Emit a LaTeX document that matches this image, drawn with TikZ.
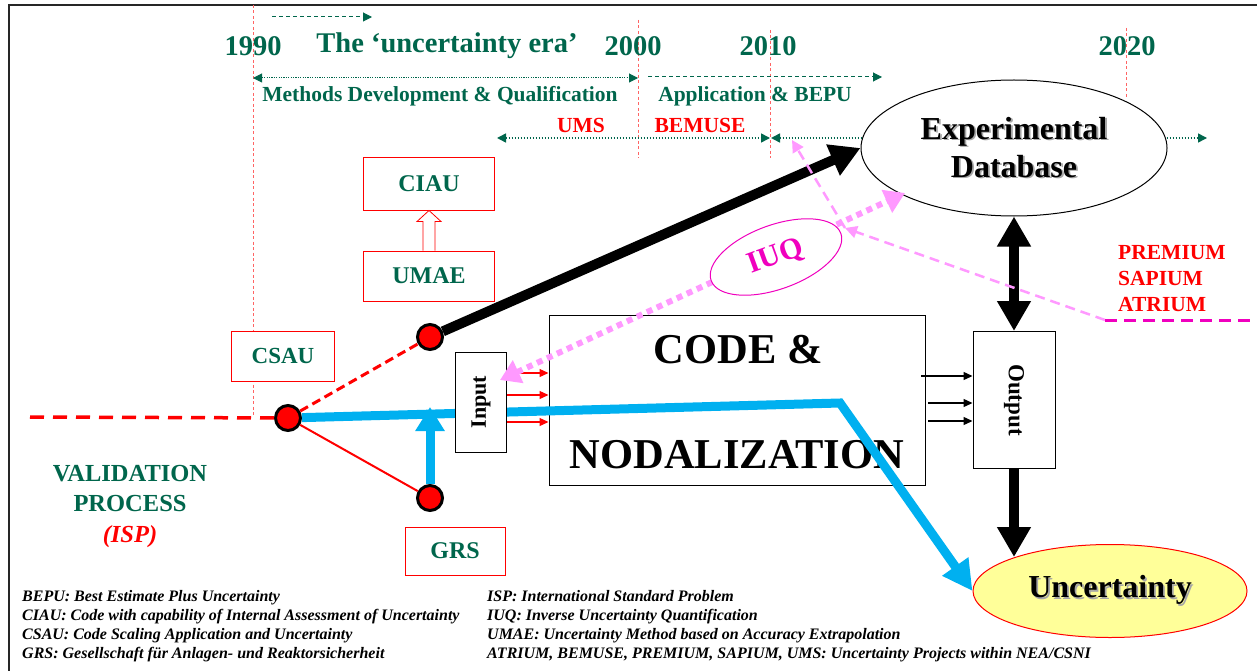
\documentclass[tikz,border=0pt]{standalone}
\usepackage{fontspec}
\setmainfont{Liberation Serif}
\usetikzlibrary{arrows.meta,shapes.geometric,calc}
\definecolor{dgreen}{RGB}{0,102,76}
\definecolor{lred}{RGB}{255,100,100}
\definecolor{pinkv}{RGB}{255,153,255}
\definecolor{magc}{RGB}{240,0,190}
\definecolor{cyanb}{RGB}{0,176,240}
\definecolor{yel}{RGB}{255,255,153}
\newcommand{\shd}[2][black!35]{\makebox[0pt][l]{\hspace{1.8pt}\raisebox{-1.8pt}{\textcolor{#1}{#2}}}#2}
\begin{document}
\begin{tikzpicture}[x=1pt,y=-1pt,
  yr/.style={font=\fontsize{28.5}{30}\selectfont\bfseries, text=dgreen, inner sep=0pt},
  glab/.style={font=\fontsize{21.5}{24}\selectfont\bfseries, text=dgreen, inner sep=0pt},
  rlab/.style={font=\fontsize{21.5}{24}\selectfont\bfseries, text=red, inner sep=0pt},
  vline/.style={draw=lred, line width=1pt, dash pattern=on 3pt off 2.5pt},
  tarr/.style={draw=dgreen, line width=1pt},
  gtip/.style={-{Triangle[length=9pt,width=9pt]}},
  gtips/.style={{Triangle[length=9pt,width=9pt]}-{Triangle[length=9pt,width=9pt]}},
  rbox/.style={draw=red, line width=1pt, fill=white, text=dgreen, font=\fontsize{24}{26}\selectfont\bfseries, inner sep=0pt},
  kbox/.style={draw=black, line width=1pt, fill=white, inner sep=0pt},
  rdot/.style={circle, fill=red, draw=black, line width=3pt, minimum size=25pt, inner sep=0pt},
  bigarr/.style={line width=10pt, -{Triangle[length=30pt,width=32pt]}},
  smallarr/.style={line width=1.3pt, -{Triangle[length=9pt,width=8pt]}},
  pdash/.style={pinkv, line width=2.5pt, dash pattern=on 10pt off 6pt, -{Triangle[length=12pt,width=12pt]}},
  fnote/.style={anchor=west, align=left, inner sep=0pt, font=\fontsize{16}{19}\selectfont\bfseries\itshape}
]
\useasboundingbox (0,0) rectangle (1257,671);
\fill[white] (0,0) rectangle (1257,671);
% frame
\draw[line width=2pt, black!85] (9,671) -- (9,5) -- (1257,5);

% vertical year lines
\draw[vline] (253,5) -- (253,415);
\draw[vline] (638,20) -- (638,158);
\draw[vline] (770,30) -- (770,158);
\draw[vline] (1126,28) -- (1126,98);

% years
\node[yr] (y1990) at (253,46) {1990};
\node[yr] (era) at (447,46) {The ‘uncertainty era’};
\node[yr] (y2000) at (633,46) {2000};
\node[yr] (y2010) at (768,46) {2010};
\node[yr] (y2020) at (1127,46) {2020};

% timeline arrows
\coordinate (ea1) at (272,17); \coordinate (ea2) at (372,17);
\draw[tarr, dash pattern=on 4pt off 3pt, gtip] (ea1) -- (ea2);
\coordinate (md1) at (253,78); \coordinate (md2) at (638,78);
\draw[tarr, dash pattern=on 1.2pt off 1.2pt, gtips] (md1) -- (md2);
\node[glab] (mdt) at (440,96) {Methods Development \& Qualification};
\coordinate (ab1) at (648,77); \coordinate (ab2) at (882,77);
\draw[tarr, dash pattern=on 4pt off 3pt, gtip] (ab1) -- (ab2);
\node[glab] (abt) at (755,96) {Application \& BEPU};
\node[rlab] (ums) at (581,125) {UMS};
\node[rlab] (bem) at (700,125) {BEMUSE};
\coordinate (u1) at (497,138); \coordinate (u2) at (770,138);
\coordinate (u3) at (771,138); \coordinate (u4) at (1207,138);
\draw[tarr, line width=1.5pt, dash pattern=on 1.5pt off 1.5pt, gtips] (u1) -- (u2);
\draw[tarr, line width=1.5pt, dash pattern=on 1.5pt off 1.5pt, gtips] (u3) -- (u4);

% experimental database
\node[ellipse, draw, line width=1pt, fill=white, minimum width=306pt, minimum height=136pt, inner sep=0pt, align=center, font=\fontsize{32}{38}\selectfont\bfseries] (expdb) at (1014,148) {\shd{Experimental}\\\shd{Database}};

% red boxes
\node[rbox, minimum width=131pt, minimum height=52pt] (ciau) at (429,184) {CIAU};
\node[rbox, minimum width=131pt, minimum height=50pt] (umae) at (429,276) {UMAE};
\node[rbox, minimum width=103pt, minimum height=50pt, font=\fontsize{23}{25}\selectfont\bfseries] (csau) at (283,356) {CSAU};
\node[rbox, minimum width=100pt, minimum height=48pt] (grs) at (455,551) {GRS};
\draw[red, line width=0.8pt, fill=white] ($(umae.north)+(-6,0)$) -- ($(ciau.south)+(-6,11)$) -- ($(ciau.south)+(-12,11)$) -- (ciau.south) -- ($(ciau.south)+(12,11)$) -- ($(ciau.south)+(6,11)$) -- ($(umae.north)+(6,0)$);

% circles
\node[rdot] (c1) at (430,337) {};
\node[rdot] (c2) at (288,418) {};
\node[rdot] (c3) at (430,498) {};

% red lines
\coordinate (vs) at (30,417);
\draw[red, line width=3.5pt, dash pattern=on 14pt off 9pt] (vs) -- (c2);
\draw[red, line width=3pt, dash pattern=on 9pt off 5pt] (c2) -- (c1);
\draw[red, line width=2pt] (c2) -- (c3);

% black arrow to database
\draw[bigarr] (c1) -- (expdb.west);

% code box
\node[kbox, minimum width=376pt, minimum height=170pt] (code) at (737,400) {};
\node[font=\fontsize{42.5}{46}\selectfont\bfseries, inner sep=0pt] (ct1) at (738,350) {CODE \&};
\node[font=\fontsize{42.5}{46}\selectfont\bfseries, inner sep=0pt] (ct2) at (737,455) {NODALIZATION};

% output box
\node[kbox, minimum width=82pt, minimum height=137pt] (out) at (1014,400) {};
\node[rotate=-90, font=\fontsize{23}{25}\selectfont\bfseries, inner sep=0pt] (outt) at (1014,400) {Output};

% uncertainty
\node[ellipse, draw=red, line width=1pt, fill=yel, minimum width=274pt, minimum height=93pt, inner sep=0pt, font=\fontsize{32}{34}\selectfont\bfseries] (unc) at (1110,591) {\shd{Uncertainty}};

% blue
\coordinate (bb) at (840,403);
\draw[cyanb, line width=9pt, -{Triangle[length=30pt,width=30pt]}] (c2) -- (bb) -- (unc.west);
\coordinate (bu) at (430,407);
\draw[cyanb, line width=9pt, -{Triangle[length=24pt,width=28pt]}] (c3) -- (bu);

% input box
\node[kbox, minimum width=51pt, minimum height=100pt] (in) at (481,402) {};
\node[rotate=90, font=\fontsize{22}{24}\selectfont\bfseries, inner sep=0pt] (int) at (481,402) {Input};

% small arrows
\coordinate (s1) at (507,373); \coordinate (s2) at (507,395); \coordinate (s3) at (507,422);
\draw[smallarr, red] (s1) -- (s1 -| code.west);
\draw[smallarr, red] (s2) -- (s2 -| code.west);
\draw[smallarr, red] (s3) -- (s3 -| code.west);
\coordinate (k1) at (921,376); \coordinate (k2) at (928,403); \coordinate (k3) at (928,421);
\draw[smallarr] (k1) -- (k1 -| out.west);
\draw[smallarr] (k2) -- (k2 -| out.west);
\draw[smallarr] (k3) -- (k3 -| out.west);

% black big double arrows
\draw[line width=10pt, {Triangle[length=30pt,width=32pt]}-{Triangle[length=30pt,width=32pt]}] (expdb.south) -- (out.north);
\coordinate (ut) at (1014,557);
\draw[bigarr] (out.south) -- (ut);

% pink dotted IUQ arrow
\coordinate (pd1) at (500,380); \coordinate (pd2) at (905,193);
\draw[pinkv, line width=6pt, dash pattern=on 6pt off 5pt, {Triangle[length=20pt,width=24pt]}-{Triangle[length=20pt,width=24pt]}] (pd1) -- (pd2);
\node[ellipse, draw=magc, line width=1pt, fill=white, minimum width=138pt, minimum height=64pt, rotate=20, inner sep=0pt, text=magc, font=\fontsize{30}{32}\selectfont\bfseries] (iuq) at (776,257) {IUQ};

% pink dashed
\coordinate (pm) at (1105,320); \coordinate (pj) at (845,228); \coordinate (pt) at (792,140);
\coordinate (pe) at (1252,320);
\draw[pdash] (pm) -- (pj);
\draw[pdash] (pj) -- (pt);
\draw[magc, line width=3pt, dash pattern=on 12pt off 7pt] (pm) -- (pe);

% labels
\node[rlab, anchor=west, align=left, font=\fontsize{21.5}{26}\selectfont\bfseries] (prem) at (1118,279) {PREMIUM\\SAPIUM\\ATRIUM};
\node[glab, align=center, font=\fontsize{24.5}{30.5}\selectfont\bfseries] (val) at (130,506) {VALIDATION\\PROCESS\\\textcolor{red}{\itshape (ISP)}};

% footnotes
\node[fnote] (fn1) at (22,626) {BEPU: Best Estimate Plus Uncertainty\\CIAU: Code with capability of Internal Assessment of Uncertainty\\CSAU: Code Scaling Application and Uncertainty\\GRS: Gesellschaft für Anlagen- und Reaktorsicherheit};
\node[fnote] (fn2) at (487,626) {ISP: International Standard Problem\\IUQ: Inverse Uncertainty Quantification\\UMAE: Uncertainty Method based on Accuracy Extrapolation\\ATRIUM, BEMUSE, PREMIUM, SAPIUM, UMS: Uncertainty Projects within NEA/CSNI};
\end{tikzpicture}
\end{document}
